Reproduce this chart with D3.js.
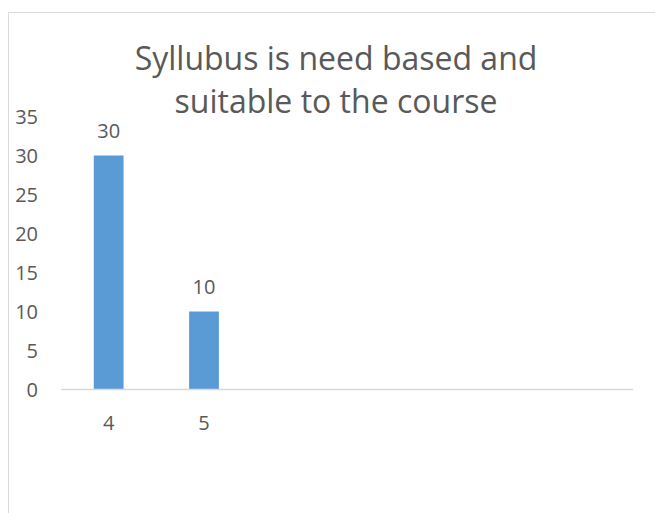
<!DOCTYPE html>
<meta charset="utf-8">
<head>
	<title>Syllubus chart</title>
</head>

<style>

body {
	margin: 0;
	background: #fff;
}

svg text {
	font-family: "Open Sans", sans-serif;
	fill: #595959;
}

</style>

<body>

<svg class="chart" width="655" height="513"></svg>

<script src="https://cdnjs.cloudflare.com/ajax/libs/d3/7.8.5/d3.min.js"></script>
<script>

// data
var categories = ['4', '5', '', '', '', ''];
var values = [30, 10, null, null, null, null];
var yTicks = [0, 5, 10, 15, 20, 25, 30, 35];
var titleLines = ['Syllubus is need based and', 'suitable to the course'];

var svg = d3.select('.chart');

// chart border (only top and left visible)
svg.append('rect')
	.attr('x', 8.5)
	.attr('y', 12.5)
	.attr('width', 700)
	.attr('height', 600)
	.attr('fill', 'none')
	.attr('stroke', '#d9d9d9');

var x = d3.scaleBand()
	.domain(d3.range(categories.length))
	.range([61, 633])
	.paddingInner(0.6875)
	.paddingOuter(0.34375);

var y = d3.scaleLinear()
	.domain([0, 35])
	.range([389.5, 116.5]);

// title
svg.selectAll('.title')
	.data(titleLines)
	.enter()
	.append('text')
	.attr('class', 'title')
	.attr('x', 336)
	.attr('y', function(d, i){ return 70 + i * 43; })
	.attr('text-anchor', 'middle')
	.style('font-size', '32px')
	.text(function(d){ return d; });

// y tick labels
svg.selectAll('.ytick')
	.data(yTicks)
	.enter()
	.append('text')
	.attr('class', 'ytick')
	.attr('x', 38)
	.attr('y', function(d){ return y(d); })
	.attr('dy', '0.36em')
	.attr('text-anchor', 'end')
	.style('font-size', '20px')
	.text(function(d){ return d; });

// bars
var barData = values.map(function(v, i){ return {i: i, v: v}; })
	.filter(function(d){ return d.v !== null; });

svg.selectAll('.bar')
	.data(barData)
	.enter()
	.append('rect')
	.attr('class', 'bar')
	.attr('x', function(d){ return x(d.i); })
	.attr('width', x.bandwidth())
	.attr('y', function(d){ return y(d.v); })
	.attr('height', function(d){ return y(0) - y(d.v); })
	.attr('fill', '#5b9bd5');

// data labels
svg.selectAll('.dlabel')
	.data(barData)
	.enter()
	.append('text')
	.attr('class', 'dlabel')
	.attr('x', function(d){ return x(d.i) + x.bandwidth() / 2; })
	.attr('y', function(d){ return y(d.v) - 18; })
	.attr('text-anchor', 'middle')
	.style('font-size', '20px')
	.text(function(d){ return d.v; });

// x axis line
svg.append('line')
	.attr('x1', 61)
	.attr('x2', 633)
	.attr('y1', y(0))
	.attr('y2', y(0))
	.attr('stroke', '#d9d9d9')
	.attr('stroke-width', 1.5);

// x labels
svg.selectAll('.xlabel')
	.data(categories)
	.enter()
	.append('text')
	.attr('class', 'xlabel')
	.attr('x', function(d, i){ return x(i) + x.bandwidth() / 2; })
	.attr('y', 430)
	.attr('text-anchor', 'middle')
	.style('font-size', '20px')
	.text(function(d){ return d; });

</script>

</body>
</html>
